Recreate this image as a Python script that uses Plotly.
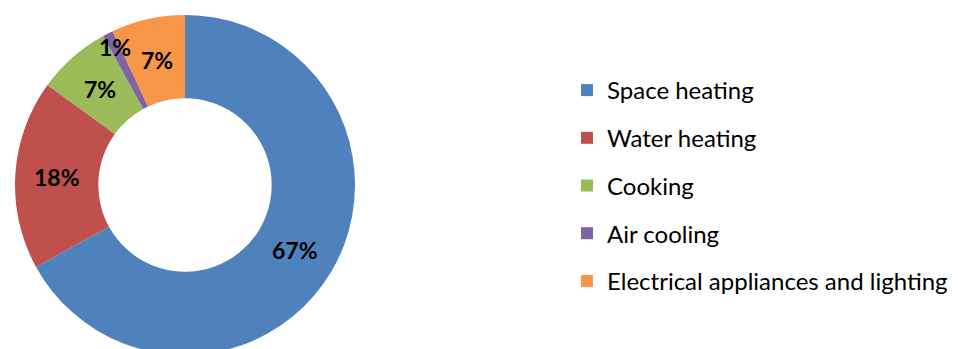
import numpy as np
import plotly.graph_objects as go

# Residential energy end-use shares (%)
categories = ["Space heating", "Water heating", "Cooking", "Air cooling",
              "Electrical appliances and lighting"]
shares = [67, 18, 7, 1, 7]
colors = ["#4F81BD", "#C0504D", "#9BBB59", "#8064A2", "#F79646"]

W, H = 958, 355
TOP = 15
R = 170            # outer radius in px
CX, CY = 185, TOP + R
HOLE = 0.51

labels_text = [f"{v}%" for v in shares]
label_font = dict(family="Lato", size=23, color="black", weight="bold")

fig = go.Figure()
fig.add_trace(go.Pie(
    labels=categories,
    values=shares,
    sort=False,
    direction="clockwise",
    rotation=0,
    hole=HOLE,
    marker=dict(colors=colors, line=dict(width=0)),
    textinfo="none",
    showlegend=False,
    domain=dict(x=[(CX - R) / W, (CX + R) / W], y=[0, 1]),
    hoverinfo="label+percent",
))

# Percentage labels on each slice's mid angle: mid-ring for normal slices,
# near the outer rim for very thin ones
cum = np.cumsum([0] + shares)
total = cum[-1]
for i, v in enumerate(shares):
    theta = 2 * np.pi * (cum[i] + v / 2) / total
    r = 0.91 * R if v < 3 else (1 + HOLE) / 2 * R
    px = CX + r * np.sin(theta)
    py = CY - r * np.cos(theta)
    fig.add_annotation(
        x=px / W, y=1 - (py - TOP) / (H - TOP), xref="paper", yref="paper",
        xanchor="center", yanchor="middle",
        text=labels_text[i], showarrow=False, font=label_font,
    )

# Legend entries as square swatches
for name, c in zip(categories, colors):
    fig.add_trace(go.Scatter(
        x=[None], y=[None], mode="markers", name=name, legendgroup=name,
        marker=dict(symbol="square", size=14, color=c),
    ))

fig.update_layout(
    width=W, height=H,
    margin=dict(l=0, r=0, t=TOP, b=0),
    paper_bgcolor="white", plot_bgcolor="white",
    xaxis=dict(visible=False), yaxis=dict(visible=False),
    legend=dict(
        x=567 / W, xanchor="left", y=1 - (68 - TOP) / (H - TOP), yanchor="top",
        font=dict(family="Lato", size=24, color="black"),
        tracegroupgap=13.5, itemsizing="constant", bgcolor="rgba(0,0,0,0)",
    ),
)

fig.write_html(
    "out.html",
    post_script="document.documentElement.style.overflow='hidden';"
                "document.body.style.overflow='hidden';",
)
